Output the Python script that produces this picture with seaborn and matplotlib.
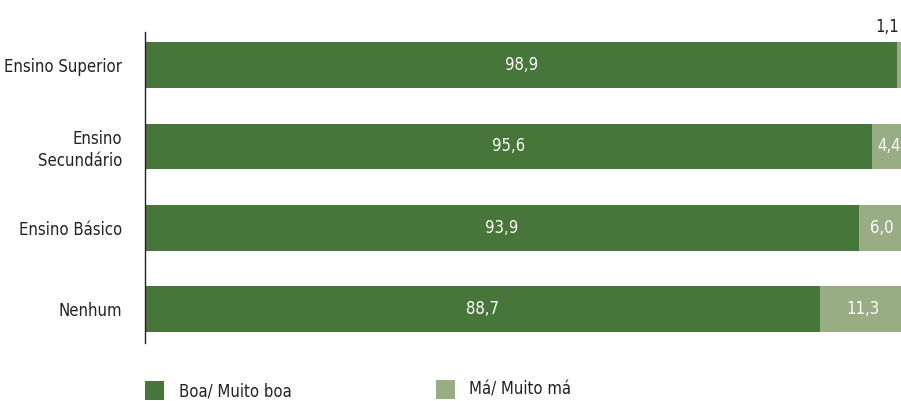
import matplotlib
matplotlib.use("Agg")
import matplotlib.pyplot as plt
import seaborn as sns
import pandas as pd
from matplotlib.patches import Rectangle

categories = ["Ensino Superior", "Ensino\nSecundário", "Ensino Básico", "Nenhum"]
boa = [98.9, 95.6, 93.9, 88.7]
ma = [1.1, 4.4, 6.0, 11.3]
series_names = ["Boa/ Muito boa", "Má/ Muito má"]

DARK = "#47763A"
LIGHT = "#98AD84"
TXT = "#222222"

sns.set_theme(style="white")
plt.rcParams["font.family"] = ["DejaVu Sans"]
plt.rcParams["font.stretch"] = "condensed"

df = pd.DataFrame({"cat": categories, "boa": boa, "ma": ma})
df["total"] = df["boa"] + df["ma"]

fig = plt.figure(figsize=(9.01, 4.01), dpi=100)
ax = fig.add_axes([145 / 901, 1 - 343 / 401, 1 - 145 / 901, (343 - 32) / 401])

sns.barplot(data=df, y="cat", x="total", color=LIGHT, orient="h", width=0.565,
            ax=ax, saturation=1, linewidth=0)
sns.barplot(data=df, y="cat", x="boa", color=DARK, orient="h", width=0.565,
            ax=ax, saturation=1, linewidth=0)

ax.set_xlim(0, 99.4)
ax.set_ylim(3.42, -0.41)
ax.set_xlabel("")
ax.set_ylabel("")
ax.set_xticks([])
for s in ["top", "right", "bottom"]:
    ax.spines[s].set_visible(False)
ax.spines["left"].set_color(TXT)
ax.spines["left"].set_linewidth(1.0)
ax.tick_params(axis="y", length=0, pad=16.5, labelsize=12, labelcolor=TXT)
for lbl in ax.get_yticklabels():
    lbl.set_horizontalalignment("right")
    lbl.set_multialignment("right")
    lbl.set_fontstretch("condensed")
    lbl.set_linespacing(1.25)

def fmt(v):
    return f"{v:.1f}".replace(".", ",")

for i, (b, m) in enumerate(zip(boa, ma)):
    ax.text(b / 2, i, fmt(b), ha="center", va="center", color="white", fontsize=12)
    if m >= 3:
        ax.text(b + m / 2, i, fmt(m), ha="center", va="center", color="white", fontsize=12)
    else:
        ax.text(b + m / 2 - 0.3, i - 0.36, fmt(m), ha="right", va="bottom",
                color=TXT, fontsize=12)

fig.text(179 / 901, 1 - 391 / 401, series_names[0], ha="left", va="center", fontsize=12, color=TXT)
fig.text(469 / 901, 1 - 390 / 401, series_names[1], ha="left", va="center", fontsize=12, color=TXT)
fig.patches.append(Rectangle((145 / 901, 1 - 400 / 401), 19 / 901, 19 / 401,
                             transform=fig.transFigure, facecolor=DARK, edgecolor="none"))
fig.patches.append(Rectangle((436 / 901, 1 - 399 / 401), 19 / 901, 19 / 401,
                             transform=fig.transFigure, facecolor=LIGHT, edgecolor="none"))

fig.savefig("out.png", dpi=100)
